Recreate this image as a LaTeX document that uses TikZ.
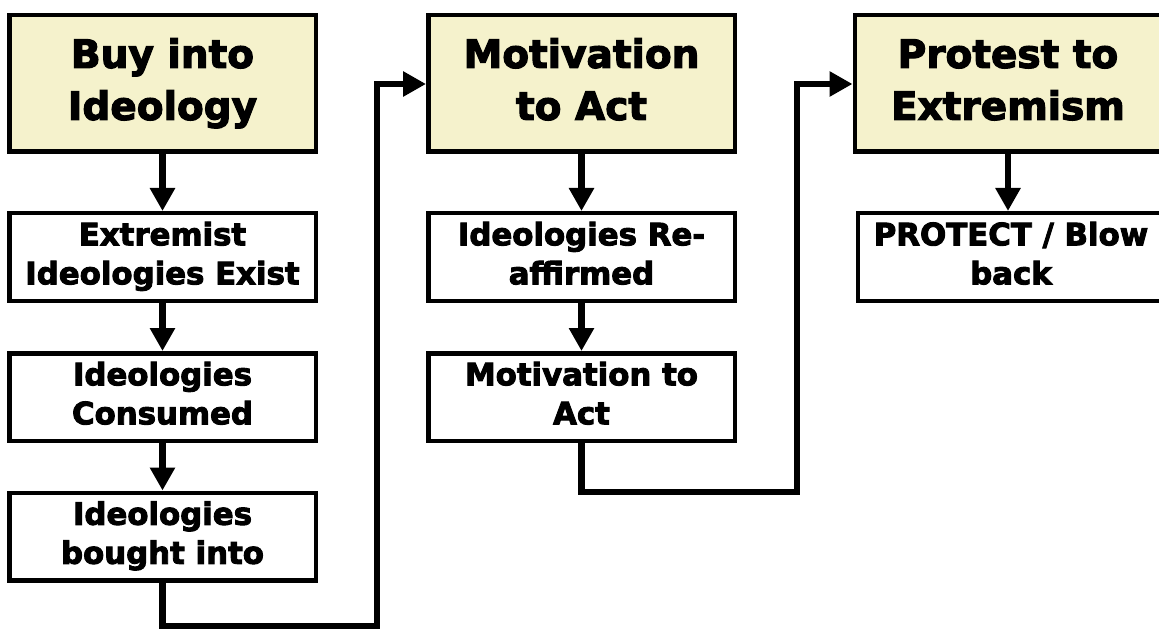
\documentclass[tikz,border=0pt]{standalone}
\usepackage{fontspec}
\setmainfont{DejaVu Sans}[BoldFeatures={FakeBold=3}]
\usetikzlibrary{arrows.meta}
\definecolor{headfill}{RGB}{245,242,204}
\newcommand\twolines[2]{\strut #1\\#2\strut}
\begin{document}
\begin{tikzpicture}[x=1pt,y=-1pt,
  box/.style={draw=black,line width=4.5pt,rectangle,inner sep=0pt,
    minimum width=306.5pt,align=center,font=\bfseries},
  headbox/.style={box,fill=headfill,minimum height=136.5pt,
    font=\bfseries\fontsize{39}{52}\selectfont},
  stepbox/.style={box,fill=white,minimum height=87.5pt,
    font=\bfseries\fontsize{30.8}{39}\selectfont},
  conn/.style={line width=6.5pt,line join=miter},
  arr/.style={conn,-{Triangle[width=24pt,length=23pt]}}]
\useasboundingbox (0,0) rectangle (1159,631);
\fill[white] (0,0) rectangle (1159,631);
% column 1
\node[headbox] (b0) at (162.5,83.5) {\twolines{Buy into}{Ideology}};
\node[stepbox] (b1) at (162.5,257) {\twolines{Extremist}{Ideologies Exist}};
\node[stepbox] (b2) at (162.5,397) {\twolines{Ideologies}{Consumed}};
\node[stepbox] (b3) at (162.5,536.5) {\twolines{Ideologies}{bought into}};
% column 2
\node[headbox] (m0) at (581.5,83.5) {\twolines{Motivation}{to Act}};
\node[stepbox] (m1) at (581.5,257) {\twolines{Ideologies Re-}{affirmed}};
\node[stepbox] (m2) at (581.5,397) {\twolines{Motivation to}{Act}};
% column 3
\node[headbox] (p0) at (1008,83.5) {\twolines{Protest to}{Extremism}};
\node[stepbox] (p1) at (1011,257) {\twolines{PROTECT / Blow}{back}};
% arrows
\draw[arr] (b0.south) -- (b1.north);
\draw[arr] (b1.south) -- (b2.north);
\draw[arr] (b2.south) -- (b3.north);
\draw[arr] (m0.south) -- (m1.north);
\draw[arr] (m1.south) -- (m2.north);
\draw[arr] (p0.south) -- (p0.south |- p1.north);
% elbows
\coordinate (e1a) at (162.5,626);
\coordinate (e1b) at (377,626);
\coordinate (e1c) at (377,84);
\draw[arr] (b3.south) -- (e1a) -- (e1b) -- (e1c) -- (e1c -| m0.west);
\coordinate (e2a) at (581.5,492);
\coordinate (e2b) at (797,492);
\coordinate (e2c) at (797,84);
\draw[arr] (m2.south) -- (e2a) -- (e2b) -- (e2c) -- (e2c -| p0.west);
\end{tikzpicture}
\end{document}
